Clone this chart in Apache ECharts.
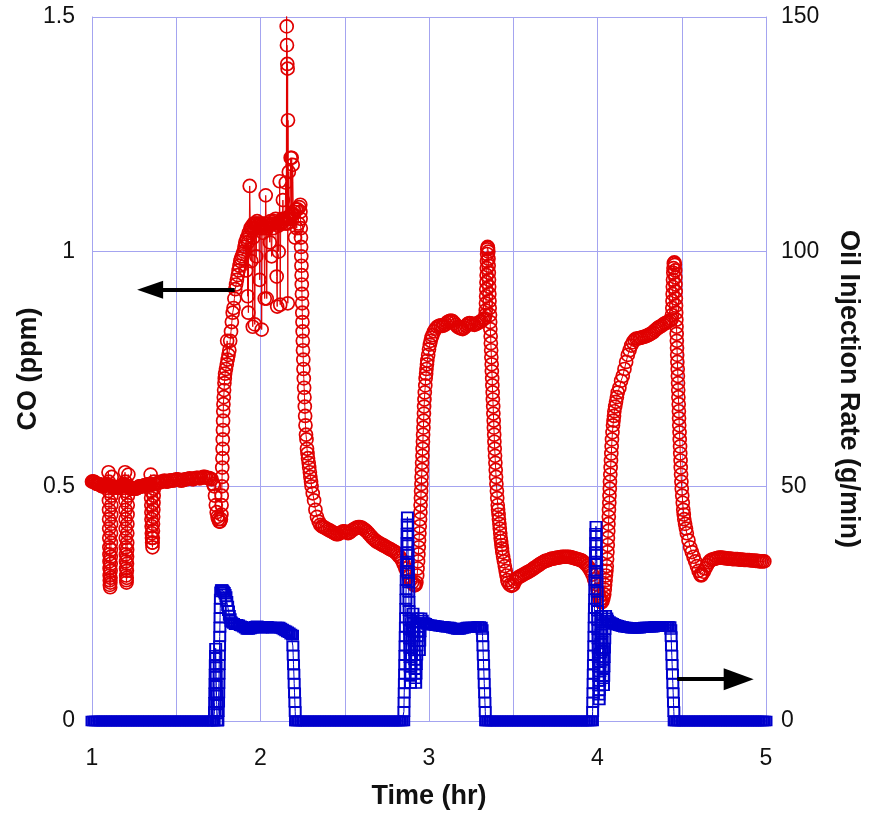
<!DOCTYPE html>
<html>
<head>
<meta charset="utf-8">
<script src="https://cdn.jsdelivr.net/npm/echarts@6/dist/echarts.min.js"></script>
<style>
  html, body { margin: 0; padding: 0; background: #ffffff; }
  #chart { width: 870px; height: 815px; }
</style>
</head>
<body>
<div id="chart"></div>
<script>
// CO concentration readings, [time (hr), CO (ppm)]
const coBaseline = [
  [1.00,.510],[1.005,.510],[1.01,.510],[1.015,.509],[1.02,.508],[1.025,.506],[1.03,.505],[1.035,.505],[1.04,.505],[1.045,.504],[1.05,.503],[1.055,.501],
  [1.06,.500],[1.065,.500],[1.07,.500],[1.075,.501],[1.08,.502],[1.085,.503],[1.09,.505],
  [1.098,.53],[1.099,.51],[1.100,.49],[1.1005,.47],[1.101,.45],[1.1015,.43],[1.102,.41],[1.1025,.39],[1.103,.37],[1.1035,.355],[1.104,.34],[1.1045,.325],
  [1.105,.31],[1.1055,.30],[1.106,.29],[1.108,.285],[1.109,.295],[1.110,.305],[1.1105,.32],[1.111,.335],[1.1115,.35],[1.112,.365],[1.1125,.38],[1.113,.40],
  [1.1135,.42],[1.114,.44],[1.1145,.46],[1.115,.48],[1.116,.50],[1.117,.52],
  [1.12,.500],[1.125,.499],[1.13,.498],[1.135,.497],[1.14,.497],[1.145,.497],[1.15,.497],[1.155,.497],[1.16,.498],[1.165,.499],[1.17,.500],[1.175,.500],
  [1.18,.500],[1.185,.502],[1.19,.505],
  [1.196,.53],[1.197,.51],[1.198,.49],[1.1985,.47],[1.199,.45],[1.1995,.43],[1.200,.41],[1.2005,.39],[1.201,.37],[1.2015,.355],[1.202,.34],[1.2025,.325],
  [1.203,.31],[1.204,.30],[1.205,.295],[1.206,.305],[1.207,.32],[1.2075,.335],[1.208,.35],[1.2085,.365],[1.209,.38],[1.2095,.40],[1.210,.42],[1.211,.44],
  [1.212,.46],[1.213,.48],[1.214,.50],[1.216,.525],
  [1.22,.500],[1.225,.498],[1.23,.497],[1.235,.496],[1.24,.495],[1.245,.495],[1.25,.495],[1.255,.495],[1.26,.495],[1.265,.496],[1.27,.497],[1.275,.498],
  [1.28,.500],[1.285,.500],[1.29,.500],[1.295,.500],[1.30,.500],[1.305,.501],[1.31,.502],[1.315,.502],[1.32,.502],[1.325,.503],[1.33,.503],[1.335,.504],[1.34,.505],
  [1.348,.525],[1.349,.505],[1.350,.49],[1.351,.475],[1.352,.46],[1.3525,.445],[1.353,.43],[1.354,.415],[1.355,.40],[1.356,.39],[1.357,.38],[1.359,.37],
  [1.360,.38],[1.361,.39],[1.3615,.405],[1.362,.42],[1.363,.435],[1.364,.45],[1.365,.465],[1.366,.48],[1.367,.495],[1.368,.51],
  [1.37,.505],[1.38,.505],[1.39,.507],[1.40,.508],[1.41,.510],[1.42,.510],[1.43,.512],[1.44,.510],[1.45,.510],[1.46,.512],[1.47,.513],[1.48,.512],[1.49,.513],[1.50,.515],
  [1.51,.515],[1.52,.513],[1.53,.512],[1.54,.513],[1.55,.515],[1.56,.515],[1.57,.516],[1.58,.517],[1.59,.516],[1.60,.515],[1.61,.517],[1.62,.518],[1.63,.518],[1.64,.517],
  [1.65,.518],[1.66,.520],[1.67,.520],[1.68,.518],[1.69,.518],[1.70,.517],[1.71,.515],[1.72,.505],
  [1.725,.50],[1.730,.48],[1.735,.46],[1.740,.445],[1.745,.435],[1.750,.43],[1.755,.425],[1.760,.425],[1.765,.43],[1.768,.44]
];
const coFirstInjection = [
  [1.769,.46],[1.770,.48],[1.771,.50],[1.772,.52],[1.773,.54],[1.774,.56],[1.775,.58],[1.776,.60],[1.777,.62],[1.778,.64],[1.779,.66],[1.780,.675],[1.782,.69],
  [1.784,.705],[1.786,.72],[1.788,.73],[1.790,.74],[1.795,.75],[1.800,.76],[1.802,.81],[1.805,.77],
  [1.810,.78],[1.815,.79],[1.820,.81],[1.825,.83],[1.830,.85],[1.835,.87],[1.840,.88],[1.845,.90],[1.850,.92],[1.855,.93],[1.860,.94],[1.865,.95],[1.870,.96],
  [1.875,.97],[1.880,.98],[1.885,.985],[1.890,.99],[1.895,.995],
  [1.900,1.00],[1.905,1.01],[1.910,1.02],[1.915,.96],[1.918,1.025],[1.920,1.03],[1.924,.905],[1.926,1.02],[1.928,.87],[1.930,1.04],[1.933,1.035],[1.936,1.14],
  [1.940,1.05],[1.945,.98],[1.948,1.05],[1.950,1.055],[1.954,.84],[1.957,1.03],[1.960,1.06],[1.963,1.05],[1.966,.845],[1.970,1.06],[1.975,.99],[1.978,1.06],
  [1.980,1.065],[1.985,1.055],[1.990,1.06],[1.995,.94],[1.998,1.05],[2.000,1.06],[2.004,1.055],[2.007,.834],[2.010,1.05],[2.015,1.04],[2.020,1.06],[2.025,.90],
  [2.028,1.05],[2.031,1.12],[2.034,1.06],[2.037,.90],[2.040,1.05],[2.045,1.055],[2.050,1.06],[2.055,1.02],[2.060,1.065],[2.066,.99],[2.070,1.06],[2.075,1.05],
  [2.080,1.065],[2.085,1.06],[2.090,1.07],[2.096,.947],[2.099,.883],[2.102,1.06],[2.105,1.055],[2.108,1.00],[2.111,1.06],[2.114,1.15],[2.117,.887],[2.120,1.065],
  [2.125,1.06],[2.130,1.07],[2.133,1.11],[2.136,1.065],[2.140,1.07],[2.145,1.06],[2.150,1.147],[2.153,1.07],[2.155,1.56],[2.1555,1.48],[2.156,1.06],[2.157,1.44],
  [2.158,1.07],[2.159,1.40],[2.160,1.06],[2.161,1.39],[2.162,.89],[2.163,1.28],[2.165,1.07],[2.168,1.17],[2.170,1.075],[2.175,1.07],[2.179,1.20],[2.183,1.08],
  [2.185,1.20],[2.188,1.08],[2.191,1.185],[2.195,1.08],[2.200,1.085],[2.205,1.03],[2.210,1.09],[2.215,1.05],[2.220,1.09],[2.225,1.06],[2.230,1.095],[2.236,1.10],
  [2.237,1.085],[2.238,1.07],[2.239,1.05],[2.240,1.03],[2.241,1.01],[2.242,.99],[2.243,.97],[2.244,.95],[2.245,.93],[2.246,.91],[2.247,.89],[2.248,.87],
  [2.249,.85],[2.250,.83],[2.251,.81],[2.252,.79],[2.254,.77],[2.255,.75],[2.257,.73],[2.259,.71],[2.261,.69],[2.263,.67],[2.265,.65],[2.267,.63],[2.270,.61],
  [2.273,.60],[2.276,.58],[2.279,.57],[2.282,.56],[2.286,.55],[2.289,.54],[2.293,.53],[2.296,.52],[2.300,.51],[2.303,.50],[2.310,.485],[2.318,.47],[2.326,.45],
  [2.335,.435],[2.345,.425],[2.355,.418],[2.365,.415]
];
const coFirstRecovery = [
  [2.37,.414],[2.38,.412],[2.39,.410],[2.40,.408],[2.41,.406],[2.42,.404],[2.43,.402],[2.44,.400],[2.45,.398],[2.46,.398],[2.47,.400],[2.48,.402],[2.49,.404],
  [2.50,.404],[2.51,.402],[2.52,.400],[2.53,.402],[2.54,.405],[2.55,.408],[2.56,.410],[2.57,.412],[2.58,.413],[2.59,.413],[2.60,.412],[2.61,.410],[2.62,.407],
  [2.63,.404],[2.64,.400],[2.65,.396],[2.66,.392],[2.67,.388],[2.68,.385],[2.69,.382],[2.70,.380],[2.71,.378],[2.72,.376],[2.73,.374],[2.74,.372],[2.75,.370],
  [2.76,.368],[2.77,.366],[2.78,.364],[2.79,.362],[2.80,.360],[2.81,.356],[2.82,.352],[2.83,.348],[2.84,.342],[2.85,.334],[2.86,.325],[2.87,.316],[2.88,.307],
  [2.89,.300],[2.90,.295],[2.91,.290],[2.915,.289],[2.92,.290],[2.925,.295],[2.93,.31]
];
const coSecondInjection = [
  [2.932,.325],[2.935,.34],[2.937,.355],[2.939,.37],[2.941,.385],[2.943,.40],[2.945,.415],[2.947,.43],[2.949,.445],[2.950,.46],[2.952,.475],[2.953,.49],
  [2.955,.505],[2.956,.52],[2.958,.535],[2.959,.55],[2.961,.565],[2.962,.58],[2.964,.595],[2.965,.61],[2.967,.625],[2.968,.64],[2.970,.655],[2.971,.67],
  [2.973,.685],[2.975,.70],[2.978,.715],[2.980,.73],[2.983,.74],[2.985,.75],[2.988,.76],[2.990,.768],[2.995,.78],[3.000,.792],[3.005,.802],[3.010,.810],
  [3.015,.817],[3.020,.822],[3.03,.830],[3.04,.836],[3.05,.840],
  [3.06,.842],[3.07,.843],[3.08,.842],[3.09,.843],[3.10,.846],[3.11,.850],[3.12,.852],[3.13,.853],[3.14,.852],[3.15,.848],[3.16,.844],[3.17,.840],[3.18,.838],
  [3.19,.836],[3.20,.835],[3.21,.838],[3.22,.842],[3.23,.846],[3.24,.848],[3.25,.847],[3.26,.845],[3.27,.844],[3.28,.846],[3.29,.848],[3.30,.850],[3.31,.852],
  [3.32,.855],[3.33,.858],[3.335,.865],[3.337,.875],[3.338,.89],[3.339,.905],[3.340,.92],[3.341,.935],[3.342,.95],[3.343,.965],[3.344,.98],[3.345,.995],
  [3.346,1.005],[3.348,1.01],[3.350,1.008],[3.352,1.0],[3.353,.985],[3.354,.97],[3.355,.955],[3.356,.94],[3.357,.925],[3.358,.91],[3.359,.895],[3.360,.88],
  [3.362,.865],[3.363,.85],[3.364,.835],[3.366,.82],[3.367,.805],[3.369,.79],[3.370,.775],[3.372,.76],[3.373,.745],[3.375,.73],[3.376,.715],[3.378,.70],
  [3.379,.685],[3.381,.67],[3.382,.655],[3.384,.64],[3.385,.625],[3.387,.61],[3.388,.595],[3.390,.58],[3.392,.565],[3.394,.55],[3.396,.535],[3.398,.52],
  [3.400,.505],[3.403,.49],[3.405,.475],[3.408,.46],[3.410,.45],[3.413,.44],[3.415,.43],[3.418,.42],[3.420,.41],[3.423,.40],[3.425,.39],[3.428,.383],
  [3.430,.375],[3.433,.368],[3.435,.36],[3.440,.35],[3.445,.34],[3.450,.33],[3.455,.32],[3.460,.31],[3.465,.30],[3.470,.295],[3.48,.29],[3.49,.288],[3.50,.290]
];
const coSecondRecovery = [
  [3.51,.297],[3.52,.303],[3.53,.306],[3.54,.308],[3.55,.310],[3.56,.312],[3.57,.314],[3.58,.316],[3.59,.318],[3.60,.320],[3.61,.322],[3.62,.325],[3.63,.327],
  [3.64,.330],[3.65,.332],[3.66,.335],[3.67,.337],[3.68,.339],[3.69,.341],[3.70,.342],[3.71,.343],[3.72,.345],[3.73,.346],[3.74,.346],[3.75,.347],[3.76,.348],
  [3.77,.348],[3.78,.349],[3.79,.350],[3.80,.350],[3.81,.350],[3.82,.350],[3.83,.350],[3.84,.349],[3.85,.348],[3.86,.347],[3.87,.346],[3.88,.345],[3.89,.344],
  [3.90,.343],[3.91,.341],[3.92,.338],[3.93,.335],[3.94,.331],[3.95,.326],[3.96,.320],[3.97,.312],[3.98,.302],[3.99,.292],[4.00,.280],[4.005,.272],[4.01,.265],
  [4.015,.258],[4.02,.254],[4.025,.253],[4.03,.256],[4.035,.262]
];
const coThirdInjection = [
  [4.040,.27],[4.043,.28],[4.045,.29],[4.048,.30],[4.050,.31],[4.053,.32],[4.055,.33],[4.057,.345],[4.059,.36],[4.061,.375],[4.062,.39],[4.064,.405],[4.065,.42],
  [4.067,.435],[4.068,.45],[4.070,.465],[4.071,.48],[4.073,.495],[4.074,.51],[4.076,.525],[4.078,.54],[4.080,.555],[4.082,.57],[4.084,.585],[4.086,.60],
  [4.089,.615],[4.092,.63],[4.095,.64],[4.098,.65],[4.100,.66],[4.105,.67],[4.110,.68],[4.115,.69],[4.120,.70],[4.130,.71],[4.140,.725],[4.150,.735],[4.160,.75],
  [4.170,.765],[4.180,.78],[4.190,.79],[4.200,.80],[4.210,.807],[4.220,.812],[4.230,.815],[4.240,.815],[4.25,.816],[4.26,.817],[4.27,.818],[4.28,.819],[4.29,.820],
  [4.30,.822],[4.31,.824],[4.32,.826],[4.33,.828],[4.34,.832],[4.35,.835],[4.36,.838],[4.37,.840],[4.38,.842],[4.39,.845],[4.40,.847],[4.41,.849],[4.42,.851],
  [4.43,.853],[4.44,.856],[4.442,.865],[4.444,.88],[4.445,.895],[4.446,.91],[4.447,.925],[4.448,.94],[4.450,.955],[4.451,.965],[4.453,.975],[4.456,.977],
  [4.459,.972],[4.461,.96],[4.462,.945],[4.463,.93],[4.464,.915],[4.465,.90],[4.466,.885],[4.467,.87],[4.468,.855],[4.469,.84],[4.470,.825],[4.471,.81],
  [4.472,.795],[4.473,.78],[4.474,.765],[4.476,.75],[4.477,.735],[4.478,.72],[4.479,.705],[4.480,.69],[4.482,.675],[4.483,.66],[4.484,.645],[4.485,.63],
  [4.487,.615],[4.488,.60],[4.490,.585],[4.491,.57],[4.493,.555],[4.494,.54],[4.496,.525],[4.498,.51],[4.500,.495],[4.503,.48],[4.506,.465],[4.509,.45],
  [4.512,.44],[4.515,.43],[4.520,.42],[4.525,.41],[4.530,.40],[4.540,.385],[4.550,.37],[4.560,.36],[4.570,.35],[4.580,.34],[4.590,.33],[4.600,.32],[4.610,.312],
  [4.615,.310]
];
const coFinalRecovery = [
  [4.62,.312],[4.63,.318],[4.64,.325],[4.65,.332],[4.66,.338],[4.67,.342],[4.68,.344],[4.69,.345],[4.70,.346],[4.71,.347],[4.72,.348],[4.73,.348],[4.74,.348],
  [4.75,.347],[4.76,.347],[4.77,.346],[4.78,.346],[4.79,.346],[4.80,.345],[4.81,.345],[4.82,.345],[4.83,.345],[4.84,.344],[4.85,.344],[4.86,.344],[4.87,.343],
  [4.88,.343],[4.89,.343],[4.90,.343],[4.91,.342],[4.92,.342],[4.93,.342],[4.94,.341],[4.95,.341],[4.96,.340],[4.97,.340],[4.98,.340],[4.99,.340]
];

// Oil injection rate readings, [time (hr), rate (g/min)]
const oilIdle1 = [
  [1.00,0],[1.01,0],[1.02,0],[1.03,0],[1.04,0],[1.05,0],[1.06,0],[1.07,0],[1.08,0],[1.09,0],[1.10,0],[1.11,0],[1.12,0],[1.13,0],[1.14,0],[1.15,0],[1.16,0],
  [1.17,0],[1.18,0],[1.19,0],[1.20,0],[1.21,0],[1.22,0],[1.23,0],[1.24,0],[1.25,0],[1.26,0],[1.27,0],[1.28,0],[1.29,0],[1.30,0],[1.31,0],[1.32,0],[1.33,0],
  [1.34,0],[1.35,0],[1.36,0],[1.37,0],[1.38,0],[1.39,0],[1.40,0],[1.41,0],[1.42,0],[1.43,0],[1.44,0],[1.45,0],[1.46,0],[1.47,0],[1.48,0],[1.49,0],[1.50,0],
  [1.51,0],[1.52,0],[1.53,0],[1.54,0],[1.55,0],[1.56,0],[1.57,0],[1.58,0],[1.59,0],[1.60,0],[1.61,0],[1.62,0],[1.63,0],[1.64,0],[1.65,0],[1.66,0],[1.67,0],
  [1.68,0],[1.69,0],[1.70,0],[1.71,0],[1.72,0],[1.725,0]
];
const oilPulse1 = [
  [1.727,2],[1.728,4],[1.729,6],[1.730,8],[1.731,10],[1.732,12],[1.733,14],[1.734,15.5],[1.735,13.5],[1.736,11.5],[1.737,9.5],[1.738,7.5],[1.739,5.5],
  [1.740,3.5],[1.741,1.5],[1.743,0],[1.745,0],[1.747,0],[1.749,2],[1.751,4],[1.752,6],[1.753,8],[1.754,10],[1.755,12],[1.756,14],[1.757,16],[1.758,18],
  [1.759,20],[1.760,22],[1.761,24],[1.762,26],[1.764,27.5],[1.768,28],[1.772,28],[1.776,27.8],[1.780,27.6],[1.785,27.4],[1.790,27.0],[1.795,26.5],
  [1.800,25.5],[1.805,24.5],[1.810,23.5],[1.815,22.5],[1.820,21.8],[1.825,21.2],[1.83,21.0],[1.84,20.8],[1.85,20.5],[1.86,20.6],[1.87,20.5],[1.88,20.3],
  [1.89,20.2],[1.90,20.0],[1.91,19.8],[1.92,19.5],[1.93,19.5],[1.94,19.6],[1.95,19.8],[1.96,20.0],[1.97,20.2],[1.98,20.3],[1.99,20.0],[2.00,19.8],[2.01,19.8],
  [2.02,20.0],[2.03,20.2],[2.04,20.2],[2.05,20.0],[2.06,20.0],[2.07,19.8],[2.08,19.8],[2.09,20.0],[2.10,20.0],[2.11,20.0],[2.12,19.8],[2.13,19.6],[2.14,19.4],
  [2.15,19.2],[2.16,19.0],[2.17,18.8],[2.18,18.5],[2.19,18.3],
  [2.192,16],[2.194,14],[2.196,12],[2.198,10],[2.200,8],[2.202,6],[2.204,4],[2.206,2],[2.208,0]
];
const oilIdle2 = [
  [2.21,0],[2.22,0],[2.23,0],[2.24,0],[2.25,0],[2.26,0],[2.27,0],[2.28,0],[2.29,0],[2.30,0],[2.31,0],[2.32,0],[2.33,0],[2.34,0],[2.35,0],[2.36,0],[2.37,0],
  [2.38,0],[2.39,0],[2.40,0],[2.41,0],[2.42,0],[2.43,0],[2.44,0],[2.45,0],[2.46,0],[2.47,0],[2.48,0],[2.49,0],[2.50,0],[2.51,0],[2.52,0],[2.53,0],[2.54,0],
  [2.55,0],[2.56,0],[2.57,0],[2.58,0],[2.59,0],[2.60,0],[2.61,0],[2.62,0],[2.63,0],[2.64,0],[2.65,0],[2.66,0],[2.67,0],[2.68,0],[2.69,0],[2.70,0],[2.71,0],
  [2.72,0],[2.73,0],[2.74,0],[2.75,0],[2.76,0],[2.77,0],[2.78,0],[2.79,0],[2.80,0],[2.81,0],[2.82,0],[2.83,0],[2.84,0],[2.85,0]
];
const oilPulse2 = [
  [2.851,2],[2.852,4],[2.853,6],[2.854,8],[2.855,10],[2.856,12],[2.857,14],[2.858,16],[2.859,18],[2.860,20],[2.861,22],[2.862,24],[2.863,26],[2.864,28],
  [2.865,30],[2.866,32],[2.867,34],[2.868,36],[2.869,38],[2.870,40],[2.871,42],[2.872,43.5],[2.873,41.5],[2.874,39.5],[2.875,37.5],[2.876,35.5],[2.877,33.5],
  [2.878,31.5],[2.879,29.5],[2.880,27.5],[2.881,25.5],[2.882,23.5],[2.883,21.5],[2.884,19.5],[2.885,17.5],[2.886,15.5],[2.887,13.5],[2.888,11.5],[2.889,9.5],
  [2.890,8],[2.892,10],[2.894,12],[2.896,14],[2.898,16],[2.900,18],[2.902,20],[2.904,22],[2.905,23],[2.907,21],[2.909,19],[2.911,17],[2.913,15],[2.915,13],
  [2.917,11],[2.919,9],[2.921,8],[2.923,10],[2.925,12],[2.927,14],[2.929,16],[2.931,18],[2.933,20],[2.935,22],[2.937,21],[2.939,19],[2.941,17],[2.943,15],
  [2.945,17],[2.947,19],[2.949,21],[2.952,22],[2.96,21.5],[2.97,21.0],[2.98,20.8],[2.99,20.6],[3.00,20.5],[3.01,20.5],[3.02,20.4],[3.03,20.4],[3.04,20.3],
  [3.05,20.3],[3.06,20.2],[3.07,20.2],[3.08,20.1],[3.09,20.1],[3.10,20.0],[3.11,20.0],[3.12,20.0],[3.13,19.9],[3.14,19.8],[3.15,19.7],[3.16,19.6],[3.17,19.5],
  [3.18,19.5],[3.19,19.6],[3.20,19.7],[3.21,19.8],[3.22,19.9],[3.23,20.0],[3.24,20.0],[3.25,20.0],[3.26,20.0],[3.27,20.0],[3.28,20.0],[3.29,20.1],[3.30,20.1],
  [3.31,20.0],[3.315,19.5],[3.318,18],[3.320,16],[3.322,14],[3.324,12],[3.326,10],[3.328,8],[3.330,6],[3.332,4],[3.334,2],[3.336,0]
];
const oilIdle3 = [
  [3.34,0],[3.35,0],[3.36,0],[3.37,0],[3.38,0],[3.39,0],[3.40,0],[3.41,0],[3.42,0],[3.43,0],[3.44,0],[3.45,0],[3.46,0],[3.47,0],[3.48,0],[3.49,0],[3.50,0],
  [3.51,0],[3.52,0],[3.53,0],[3.54,0],[3.55,0],[3.56,0],[3.57,0],[3.58,0],[3.59,0],[3.60,0],[3.61,0],[3.62,0],[3.63,0],[3.64,0],[3.65,0],[3.66,0],[3.67,0],
  [3.68,0],[3.69,0],[3.70,0],[3.71,0],[3.72,0],[3.73,0],[3.74,0],[3.75,0],[3.76,0],[3.77,0],[3.78,0],[3.79,0],[3.80,0],[3.81,0],[3.82,0],[3.83,0],[3.84,0],
  [3.85,0],[3.86,0],[3.87,0],[3.88,0],[3.89,0],[3.90,0],[3.91,0],[3.92,0],[3.93,0],[3.94,0],[3.95,0],[3.96,0],[3.97,0]
];
const oilPulse3 = [
  [3.971,2],[3.972,4],[3.973,6],[3.974,8],[3.975,10],[3.976,12],[3.977,14],[3.978,16],[3.979,18],[3.980,20],[3.981,22],[3.982,24],[3.983,26],[3.984,28],
  [3.985,30],[3.986,32],[3.987,34],[3.988,36],[3.989,38],[3.990,40],[3.991,41.5],[3.992,39.5],[3.993,37.5],[3.994,35.5],[3.995,33.5],[3.996,31.5],[3.997,29.5],
  [3.998,27.5],[3.999,25.5],[4.000,23.5],[4.001,21.5],[4.002,19.5],[4.003,17.5],[4.004,15.5],[4.005,13.5],[4.006,11.5],[4.007,9.5],[4.008,7.5],[4.009,5.5],
  [4.010,4.5],[4.0115,6.5],[4.013,8.5],[4.0145,10.5],[4.016,12.5],[4.0175,14.5],[4.019,16.5],[4.0205,18.5],[4.022,20.5],[4.0235,22.5],[4.025,21],[4.0265,19],
  [4.028,17],[4.0295,15],[4.031,13],[4.0325,11],[4.034,9],[4.0355,7.5],[4.037,9.5],[4.0385,11.5],[4.040,13.5],[4.0415,15.5],[4.043,17.5],[4.0445,19.5],
  [4.046,21.5],[4.048,22.5],[4.055,22.0],[4.06,21.5],[4.07,21.2],[4.08,21.0],[4.09,20.8],
  [4.10,20.6],[4.11,20.5],[4.12,20.4],[4.13,20.3],[4.14,20.2],[4.15,20.1],[4.16,20.0],[4.17,20.0],[4.18,19.9],[4.19,19.9],[4.20,19.8],[4.21,19.8],[4.22,19.8],
  [4.23,19.8],[4.24,19.8],[4.25,19.8],[4.26,19.9],[4.27,19.9],[4.28,20.0],[4.29,20.0],[4.30,20.0],[4.31,20.0],[4.32,20.0],[4.33,20.0],[4.34,20.1],[4.35,20.1],
  [4.36,20.1],[4.37,20.1],[4.38,20.2],[4.39,20.2],[4.40,20.2],[4.41,20.2],[4.42,20.2],[4.43,20.1],[4.435,19.5],[4.437,18],[4.439,16],[4.441,14],[4.443,12],
  [4.445,10],[4.447,8],[4.449,6],[4.451,4],[4.453,2],[4.455,0]
];
const oilIdle4 = [
  [4.46,0],[4.47,0],[4.48,0],[4.49,0],[4.50,0],[4.51,0],[4.52,0],[4.53,0],[4.54,0],[4.55,0],[4.56,0],[4.57,0],[4.58,0],[4.59,0],[4.60,0],[4.61,0],[4.62,0],
  [4.63,0],[4.64,0],[4.65,0],[4.66,0],[4.67,0],[4.68,0],[4.69,0],[4.70,0],[4.71,0],[4.72,0],[4.73,0],[4.74,0],[4.75,0],[4.76,0],[4.77,0],[4.78,0],[4.79,0],
  [4.80,0],[4.81,0],[4.82,0],[4.83,0],[4.84,0],[4.85,0],[4.86,0],[4.87,0],[4.88,0],[4.89,0],[4.90,0],[4.91,0],[4.92,0],[4.93,0],[4.94,0],[4.95,0],[4.96,0],
  [4.97,0],[4.98,0],[4.99,0],[5.00,0]
];

// Axis ranges and tick spacing
const timeRange = [1, 5];
const timeStep = 0.5;
const coRange = [0, 1.5];
const coStep = 0.5;
const rateRange = [0, 150];
const rateStep = 50;

// Arrows pointing each curve to its axis: [start, end] in axis units
const coArrow = [[1.847, 0.919], [1.345, 0.919]];
const rateArrow = [[4.473, 8.9], [4.838, 8.9]];

const coSeries = [].concat(coBaseline, coFirstInjection, coFirstRecovery, coSecondInjection,
  coSecondRecovery, coThirdInjection, coFinalRecovery);
const oilSeries = [].concat(oilIdle1, oilPulse1, oilIdle2, oilPulse2, oilIdle3, oilPulse3, oilIdle4);

const FONT = "'Liberation Sans', Arial, Helvetica, sans-serif";
const GRID_COLOR = '#a4a4f0';
const RED = '#e00000';
const BLUE = '#0000cc';
const HOLLOW = 'rgba(255,255,255,0)';
const TITLE_STYLE = { fontFamily: FONT, fontSize: 27, fontWeight: 'bold', color: '#111' };

const chart = echarts.init(document.getElementById('chart'), null, { renderer: 'canvas' });

chart.setOption({
  animation: false,
  backgroundColor: '#ffffff',
  grid: { left: 92, right: 103, top: 17, bottom: 93, containLabel: false },
  xAxis: {
    type: 'value',
    min: timeRange[0], max: timeRange[1], interval: timeStep,
    name: 'Time (hr)', nameLocation: 'middle', nameGap: 62, nameMoveOverlap: false,
    nameTextStyle: TITLE_STYLE,
    axisLine: { show: true, lineStyle: { color: GRID_COLOR, width: 1 } },
    axisTick: { show: false },
    axisLabel: {
      margin: 26, fontFamily: FONT, fontSize: 23, color: '#111',
      formatter: v => (Math.abs(v - Math.round(v)) < 1e-9 ? String(Math.round(v)) : '')
    },
    splitLine: { show: true, lineStyle: { color: GRID_COLOR, width: 1 } }
  },
  yAxis: [
    {
      type: 'value', position: 'left',
      min: coRange[0], max: coRange[1], interval: coStep,
      name: 'CO (ppm)', nameLocation: 'middle', nameGap: 50, nameRotate: 90, nameMoveOverlap: false,
      nameTextStyle: TITLE_STYLE,
      axisLine: { show: true, lineStyle: { color: GRID_COLOR, width: 1 } },
      axisTick: { show: false },
      axisLabel: { margin: 17, fontFamily: FONT, fontSize: 23, color: '#111' },
      splitLine: { show: true, lineStyle: { color: GRID_COLOR, width: 1 } }
    },
    {
      type: 'value', position: 'right',
      min: rateRange[0], max: rateRange[1], interval: rateStep,
      name: 'Oil Injection Rate (g/min)', nameLocation: 'middle', nameGap: 69, nameRotate: -90, nameMoveOverlap: false,
      nameTextStyle: Object.assign({}, TITLE_STYLE, { padding: [0, 0, 0, 40] }),
      axisLine: { show: true, lineStyle: { color: GRID_COLOR, width: 1 } },
      axisTick: { show: false },
      axisLabel: { margin: 15, fontFamily: FONT, fontSize: 23, color: '#111' },
      splitLine: { show: false }
    }
  ],
  series: [
    {
      name: 'CO',
      type: 'line',
      yAxisIndex: 0,
      data: coSeries,
      showSymbol: true,
      showAllSymbol: true,
      symbol: 'circle',
      symbolSize: 13,
      clip: true,
      lineStyle: { color: RED, width: 1 },
      itemStyle: { color: HOLLOW, borderColor: RED, borderWidth: 1.7 },
      emphasis: { disabled: true },
      z: 2,
      markLine: {
        silent: true,
        animation: false,
        symbol: ['none', 'triangle'],
        symbolSize: [18, 26],
        label: { show: false },
        lineStyle: { color: '#000000', width: 4, type: 'solid' },
        itemStyle: { color: '#000000' },
        emphasis: { disabled: true },
        data: [[{ coord: coArrow[0] }, { coord: coArrow[1] }]]
      }
    },
    {
      name: 'Oil injection',
      type: 'line',
      yAxisIndex: 1,
      data: oilSeries,
      showSymbol: true,
      showAllSymbol: true,
      symbol: 'rect',
      symbolSize: [11, 9],
      clip: true,
      lineStyle: { color: BLUE, width: 1 },
      itemStyle: { color: HOLLOW, borderColor: BLUE, borderWidth: 1.8 },
      emphasis: { disabled: true },
      z: 3,
      markLine: {
        silent: true,
        animation: false,
        symbol: ['none', 'triangle'],
        symbolSize: [22, 30],
        label: { show: false },
        lineStyle: { color: '#000000', width: 4, type: 'solid' },
        itemStyle: { color: '#000000' },
        emphasis: { disabled: true },
        data: [[{ coord: rateArrow[0] }, { coord: rateArrow[1] }]]
      }
    }
  ]
});
</script>
</body>
</html>
